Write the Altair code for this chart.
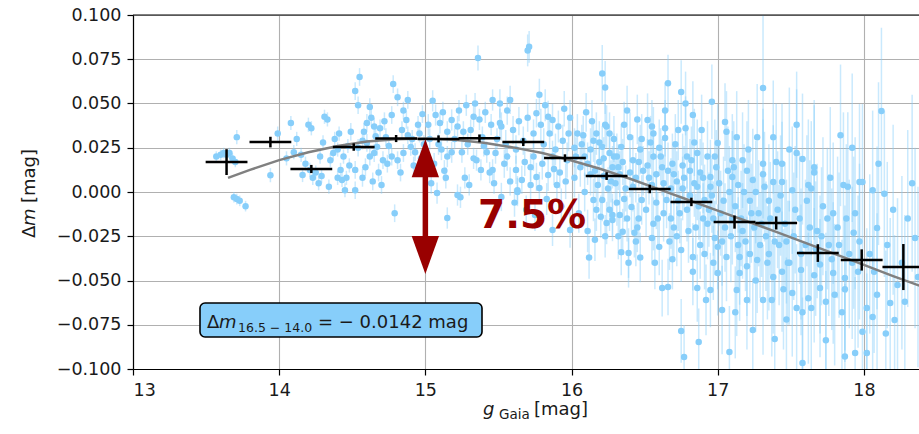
import altair as alt
import pandas as pd

# ---------------- data ----------------
# individual stars: (g_Gaia, delta_m, error)
pts_135_140 = [(13.57,0.020,0.003),(13.60,0.021,0.003),(13.62,0.022,0.003),(13.64,0.021,0.003),(13.66,0.022,0.003),
               (13.68,0.019,0.003),(13.70,0.017,0.003),(13.71,0.031,0.004),(13.69,-0.003,0.003),(13.71,-0.004,0.003),
               (13.73,-0.005,0.003),(13.77,-0.008,0.003),(13.94,0.0095,0.004),(13.99,0.033,0.004)]
pts_140_145 = [(14.08,0.039,0.004),(14.10,0.0225,0.004),(14.15,0.021,0.004),(14.16,0.0096,0.004),(14.20,0.038,0.004),
               (14.22,0.036,0.004),(14.23,0.008,0.004),(14.21,0.0125,0.004),(14.25,0.011,0.004),(14.31,0.0425,0.004),
               (14.33,0.041,0.004),(14.28,0.020,0.004),(14.30,0.028,0.004),(14.37,0.022,0.004),(14.40,0.008,0.004),
               (14.42,0.0125,0.004),(14.43,0.0068,0.004),(14.46,0.008,0.004),(14.48,0.015,0.004),(14.45,0.001,0.004),
               (14.35,0.018,0.004),(14.38,0.030,0.004),(14.47,0.026,0.004),(14.49,0.034,0.005),(14.40,0.024,0.004),
               (14.27,0.005,0.004),(14.12,0.030,0.004),(14.05,0.019,0.004),(14.34,0.003,0.004),(14.44,0.020,0.004),
               (14.29,0.009,0.004),(14.41,0.033,0.004),(14.18,0.016,0.004)]
pts_145_150 = [(14.55,0.065,0.005),(14.52,0.057,0.005),(14.54,0.049,0.005),(14.62,0.048,0.005),(14.78,0.061,0.005),
               (14.81,0.0535,0.005),(14.88,0.052,0.005),(14.83,0.011,0.005),(14.74,0.016,0.005),(14.77,0.0435,0.005),
               (14.85,0.046,0.005),(14.87,0.0407,0.005),(14.95,0.038,0.005),(14.96,0.033,0.005),(14.63,0.042,0.005),
               (14.65,0.037,0.005),(14.69,0.036,0.005),(14.65,0.022,0.005),(14.62,0.020,0.005),(14.67,0.0255,0.005),
               (14.71,0.018,0.005),(14.59,0.014,0.005),(14.60,0.0277,0.005),(14.58,0.034,0.005),(14.68,0.011,0.005),
               (14.77,0.020,0.005),(14.81,0.018,0.005),(14.85,0.022,0.005),(14.90,0.0255,0.005),(14.93,0.0225,0.005),
               (14.52,0.0125,0.005),(14.54,0.025,0.005),(14.57,0.029,0.005),(14.57,0.008,0.005),(14.70,0.004,0.005),
               (14.79,-0.012,0.005),(14.52,0.001,0.005),(14.98,0.044,0.005),(14.91,0.030,0.005),(14.73,0.031,0.005),
               (14.66,0.0315,0.005),(14.72,0.040,0.005),(14.84,0.035,0.005),(14.92,0.015,0.005),(14.97,0.019,0.005),
               (14.60,0.039,0.005),(14.75,0.026,0.005),(14.88,0.032,0.005),(14.64,0.006,0.005),(14.99,0.027,0.005)]
pts_150_155 = [(15.05,0.0515,0.006),(15.12,0.045,0.006),(15.07,0.0435,0.006),(15.18,0.0407,0.006),(15.22,0.037,0.006),
               (15.10,0.039,0.006),(15.15,0.034,0.006),(15.26,0.034,0.006),(15.33,0.0425,0.006),(15.34,0.050,0.006),
               (15.41,0.045,0.006),(15.46,0.052,0.006),(15.36,0.0757,0.007),(15.11,0.024,0.006),(15.18,0.0225,0.006),
               (15.25,0.0225,0.006),(15.15,0.020,0.006),(15.33,0.019,0.006),(15.42,0.0225,0.006),(15.48,0.022,0.006),
               (15.46,0.0125,0.006),(15.35,0.018,0.006),(15.38,0.0125,0.006),(15.44,0.011,0.006),(15.08,-0.0006,0.006),
               (15.22,-0.0017,0.006),(15.15,-0.0147,0.006),(15.24,-0.003,0.006),(15.27,0.008,0.006),(15.14,0.008,0.006),
               (15.03,0.030,0.006),(15.06,0.016,0.006),(15.20,0.030,0.006),(15.29,0.027,0.006),(15.31,0.035,0.006),
               (15.39,0.031,0.006),(15.45,0.038,0.006),(15.02,0.038,0.006),(15.13,0.012,0.006),(15.30,0.004,0.006),
               (15.40,0.026,0.006),(15.49,0.030,0.006),(15.23,0.046,0.006),(15.09,0.027,0.006),(15.37,0.041,0.006),
               (15.04,0.005,0.006),(15.47,0.005,0.006),(15.28,0.049,0.006)]
pts_155_160 = [(15.51,0.050,0.008),(15.56,0.046,0.008),(15.58,0.052,0.008),(15.51,0.039,0.008),(15.52,0.037,0.008),
               (15.56,0.020,0.008),(15.62,0.024,0.008),(15.67,0.029,0.008),(15.70,0.042,0.008),(15.76,0.0445,0.008),
               (15.78,0.055,0.009),(15.70,0.080,0.009),(15.71,0.082,0.009),(15.84,0.0425,0.009),(15.87,0.0407,0.009),
               (15.91,0.037,0.009),(15.85,0.033,0.009),(15.94,0.029,0.009),(15.99,0.042,0.010),(15.74,0.020,0.008),
               (15.72,0.014,0.008),(15.80,0.016,0.009),(15.87,0.020,0.009),(15.97,0.018,0.010),(15.76,0.0085,0.008),
               (15.84,0.0096,0.009),(15.62,0.0125,0.008),(15.54,0.016,0.008),(15.66,0.0068,0.008),(15.72,0.004,0.008),
               (15.78,0.0023,0.009),(15.63,0.000,0.008),(15.90,0.004,0.009),(15.52,-0.0028,0.008),(15.63,0.001,0.008),
               (15.87,-0.0215,0.009),(15.99,-0.0215,0.010),(15.92,0.011,0.009),(15.60,0.035,0.008),(15.64,0.040,0.008),
               (15.68,0.017,0.008),(15.81,0.027,0.009),(15.89,0.024,0.009),(15.96,0.006,0.010),(15.55,0.027,0.008),
               (15.58,0.006,0.008),(15.74,0.033,0.008),(15.79,0.038,0.009),(15.83,-0.004,0.009),(15.93,-0.008,0.010),
               (15.98,0.033,0.010),(15.61,-0.006,0.008),(15.69,-0.010,0.008),(15.75,-0.013,0.009),(15.95,0.047,0.010),
               (15.82,0.049,0.009),(15.88,0.013,0.009)]
pts_160_165 = [(16.04,0.033,0.011),(16.06,0.014,0.011),(16.09,0.020,0.011),(16.15,0.029,0.012),(16.17,0.033,0.012),
               (16.24,0.037,0.012),(16.21,0.0255,0.012),(16.26,0.022,0.012),(16.28,0.014,0.012),(16.21,0.067,0.016),
               (16.23,0.059,0.015),(16.38,0.046,0.014),(16.23,0.038,0.012),(16.26,0.033,0.012),(16.34,0.0255,0.013),
               (16.31,0.020,0.013),(16.47,0.024,0.014),(16.42,0.018,0.014),(16.02,0.008,0.011),(16.09,0.000,0.011),
               (16.15,-0.0045,0.012),(16.20,-0.014,0.012),(16.26,-0.010,0.012),(16.28,-0.0158,0.012),(16.12,-0.037,0.012),
               (16.21,-0.0045,0.012),(16.31,-0.006,0.013),(16.41,-0.0085,0.014),(16.48,-0.0045,0.014),(16.24,-0.0175,0.012),
               (16.28,-0.013,0.012),(16.35,-0.0225,0.013),(16.43,-0.023,0.014),(16.34,-0.034,0.013),(16.39,-0.0345,0.014),
               (16.39,-0.040,0.014),(16.05,-0.012,0.011),(16.10,0.045,0.011),(16.13,0.010,0.012),(16.18,0.004,0.012),
               (16.30,0.005,0.013),(16.33,0.010,0.013),(16.37,0.002,0.013),(16.40,0.031,0.014),(16.44,0.008,0.014),
               (16.46,-0.015,0.014),(16.49,0.012,0.014),(16.07,0.027,0.011),(16.19,0.017,0.012),(16.36,0.038,0.013),
               (16.45,0.041,0.014),(16.11,-0.022,0.012),(16.16,-0.027,0.012),(16.32,-0.025,0.013),(16.25,0.002,0.012),
               (16.03,0.020,0.011),(16.14,0.040,0.012),(16.29,0.030,0.013),(16.38,-0.015,0.013),(16.44,-0.028,0.014),
               (16.22,0.009,0.012),(16.47,-0.037,0.014),
               (16.02,0.025,0.011),(16.08,0.032,0.011),(16.11,0.016,0.012),(16.13,0.024,0.012),(16.16,0.012,0.012),
               (16.19,0.028,0.012),(16.22,0.019,0.012),(16.27,0.006,0.012),(16.29,0.020,0.013),(16.32,0.014,0.013),
               (16.35,0.017,0.013),(16.36,-0.004,0.013),(16.40,0.011,0.014),(16.42,0.003,0.014),(16.46,0.017,0.014),
               (16.48,0.030,0.014),(16.17,-0.010,0.012),(16.23,-0.025,0.012),(16.33,-0.013,0.013),(16.45,-0.020,0.014)]
pts_165_170 = [(16.52,0.0407,0.015),(16.55,0.037,0.015),(16.56,0.033,0.015),(16.64,0.046,0.016),(16.66,0.0615,0.016),
               (16.75,0.0565,0.018),(16.78,0.050,0.018),(16.83,0.0435,0.019),(16.96,0.051,0.021),(16.64,0.036,0.016),
               (16.64,0.0305,0.016),(16.73,0.035,0.017),(16.78,0.036,0.018),(16.86,0.022,0.019),(16.56,0.020,0.015),
               (16.62,0.014,0.016),(16.69,0.016,0.017),(16.76,0.015,0.018),(16.88,0.011,0.019),(16.95,0.0085,0.021),
               (16.58,-0.006,0.015),(16.65,-0.0045,0.016),(16.74,-0.012,0.017),(16.86,0.003,0.019),(16.91,-0.0045,0.020),
               (16.95,0.003,0.021),(16.55,-0.026,0.015),(16.60,-0.031,0.016),(16.56,-0.018,0.015),(16.62,-0.0543,0.016),
               (16.66,-0.0537,0.016),(16.75,-0.0785,0.018),(16.77,-0.0932,0.018),(16.87,-0.0848,0.019),(16.86,-0.0543,0.019),
               (16.83,-0.045,0.019),(16.92,-0.061,0.020),(16.95,-0.0554,0.021),(16.83,-0.0367,0.019),(16.75,-0.0328,0.018),
               (16.70,-0.020,0.017),(16.80,-0.022,0.018),(16.68,0.002,0.017),(16.72,0.006,0.017),(16.81,-0.002,0.018),
               (16.90,-0.015,0.020),(16.98,-0.026,0.021),(16.53,0.008,0.015),(16.60,0.025,0.016),(16.71,0.027,0.017),
               (16.84,0.028,0.019),(16.93,0.020,0.020),(16.99,0.014,0.021),(16.57,-0.040,0.015),(16.67,-0.028,0.016),
               (16.79,-0.010,0.018),(16.88,-0.030,0.019),(16.97,-0.040,0.021),(16.63,-0.012,0.016),(16.77,0.008,0.018),
               (16.89,0.035,0.020),(16.54,0.028,0.015),(16.69,-0.038,0.017),(16.82,0.018,0.019),(16.94,-0.010,0.021),
               (16.51,-0.010,0.015),
               (16.52,0.015,0.015),(16.55,0.004,0.015),(16.58,0.010,0.015),(16.61,0.020,0.016),(16.63,0.005,0.016),
               (16.66,0.012,0.016),(16.70,0.010,0.017),(16.73,-0.005,0.017),(16.76,0.002,0.018),(16.79,0.020,0.018),
               (16.81,0.012,0.018),(16.84,0.005,0.019),(16.87,-0.008,0.019),(16.90,0.008,0.020),(16.93,-0.018,0.020),
               (16.96,-0.002,0.021),(16.98,0.020,0.021),(16.59,-0.015,0.015),(16.68,-0.015,0.017),(16.72,-0.025,0.017),
               (16.85,-0.020,0.019),(16.91,-0.035,0.020),(16.97,-0.015,0.021)]
pts_170_175 = [(17.05,0.0395,0.022),(17.06,0.034,0.023),(17.00,0.0277,0.022),(17.13,0.031,0.026),(17.27,0.031,0.030),
               (17.31,0.0588,0.042),(17.38,0.031,0.032),(17.21,0.024,0.028),(17.10,0.018,0.026),(17.11,0.014,0.026),
               (17.17,0.018,0.027),(17.31,0.016,0.031),(17.40,0.017,0.033),(17.44,0.016,0.034),(17.10,0.0085,0.026),
               (17.24,0.0068,0.029),(17.31,0.010,0.031),(17.38,0.0057,0.032),(17.44,0.0057,0.034),(17.00,-0.0458,0.024),
               (17.03,-0.0667,0.025),(17.08,-0.0904,0.026),(17.13,-0.0554,0.026),(17.15,-0.0458,0.027),(17.20,-0.061,0.028),
               (17.24,-0.078,0.029),(17.31,-0.061,0.031),(17.37,-0.061,0.032),(17.39,-0.083,0.033),(17.38,-0.048,0.032),
               (17.47,-0.072,0.035),(17.27,-0.0384,0.030),(17.20,-0.042,0.028),(17.15,-0.0367,0.027),(17.06,-0.0367,0.025),
               (17.00,-0.031,0.024),(17.02,-0.012,0.024),(17.05,-0.020,0.025),(17.09,-0.025,0.026),(17.12,-0.008,0.026),
               (17.16,-0.015,0.027),(17.19,-0.028,0.028),(17.22,-0.005,0.028),(17.25,-0.020,0.029),(17.28,-0.012,0.030),
               (17.33,-0.025,0.031),(17.35,-0.005,0.032),(17.42,-0.030,0.034),(17.46,-0.018,0.035),(17.48,-0.040,0.035),
               (17.18,0.000,0.027),(17.29,-0.030,0.030),(17.41,-0.010,0.033),(17.08,0.000,0.026),(17.34,-0.040,0.032),
               (17.45,-0.055,0.034),(17.12,-0.068,0.026),(17.26,-0.050,0.029),(17.49,0.024,0.035),
               (17.01,0.005,0.024),(17.04,-0.005,0.025),(17.07,0.012,0.025),(17.10,-0.015,0.026),(17.14,0.004,0.027),
               (17.17,-0.022,0.027),(17.20,0.012,0.028),(17.23,-0.012,0.028),(17.26,0.000,0.029),(17.30,-0.018,0.030),
               (17.32,0.003,0.031),(17.36,-0.015,0.032),(17.39,-0.028,0.033),(17.43,-0.002,0.034),(17.47,-0.028,0.035),
               (17.03,-0.028,0.025),(17.14,-0.030,0.027),(17.22,-0.035,0.028),(17.35,-0.035,0.032),(17.44,-0.045,0.034)]
pts_175_180 = [(17.54,0.038,0.030),(17.54,0.022,0.036),(17.58,0.0186,0.037),(17.66,0.014,0.038),(17.66,0.011,0.038),
               (17.84,0.032,0.040),(17.92,0.025,0.042),(17.97,0.0057,0.044),(17.99,0.0057,0.044),(17.51,0.001,0.036),
               (17.62,0.004,0.037),(17.64,0.002,0.038),(17.79,-0.012,0.040),(17.86,0.004,0.041),(17.89,0.003,0.042),
               (17.94,-0.012,0.043),(17.54,-0.0655,0.036),(17.58,-0.068,0.037),(17.64,-0.0655,0.038),(17.51,-0.057,0.036),
               (17.58,-0.0966,0.037),(17.62,-0.060,0.037),(17.74,-0.0837,0.039),(17.70,-0.0543,0.039),(17.74,-0.062,0.039),
               (17.80,-0.058,0.040),(17.87,-0.093,0.041),(17.94,-0.091,0.043),(17.99,-0.079,0.044),(17.93,-0.023,0.043),
               (17.87,-0.0486,0.041),(17.87,-0.055,0.041),(17.79,-0.0458,0.040),(17.66,-0.047,0.038),(17.70,-0.041,0.039),
               (17.57,-0.044,0.037),(17.49,-0.040,0.035),(17.52,-0.025,0.036),(17.56,-0.015,0.037),(17.60,-0.030,0.037),
               (17.68,-0.022,0.038),(17.72,-0.008,0.039),(17.76,-0.030,0.040),(17.82,-0.020,0.040),(17.90,-0.035,0.042),
               (17.96,-0.045,0.043),(17.77,0.008,0.040),(17.61,-0.005,0.037),(17.85,-0.068,0.041),
               (17.53,-0.010,0.036),(17.57,-0.035,0.037),(17.63,-0.020,0.038),(17.67,-0.032,0.038),(17.71,-0.025,0.039),
               (17.75,-0.015,0.040),(17.78,-0.038,0.040),(17.83,-0.030,0.041),(17.88,-0.015,0.042),(17.92,-0.040,0.043),
               (17.97,-0.028,0.044)]
pts_180_185 = [(18.10,0.016,0.046),(18.12,0.0458,0.047),(18.06,0.001,0.045),(18.14,-0.001,0.047),(18.33,0.005,0.050),
               (18.02,-0.0655,0.045),(18.02,-0.091,0.045),(18.06,-0.0706,0.045),(18.09,-0.058,0.046),(18.18,-0.0627,0.048),
               (18.21,-0.0723,0.048),(18.23,-0.0525,0.049),(18.35,-0.026,0.051),(18.09,-0.0203,0.046),(18.04,-0.035,0.045),
               (18.16,-0.030,0.047),(18.26,-0.040,0.049),(18.30,-0.015,0.050),(18.20,-0.010,0.048),(18.07,-0.045,0.046),
               (18.28,-0.062,0.049),(18.37,-0.048,0.051),(18.15,-0.080,0.047)]

# binned means
bin_g = [13.64, 13.94, 14.22, 14.51, 14.80, 15.09, 15.37, 15.67, 15.955, 16.24, 16.535, 16.82, 17.115, 17.40, 17.685, 17.985, 18.27]
bin_dm = [0.0169, 0.0282, 0.0130, 0.0254, 0.0302, 0.0300, 0.0303, 0.0282, 0.0192, 0.0090, 0.0017, -0.0056, -0.0170, -0.0175, -0.0345, -0.0384, -0.0424]
bin_halfwidth = [0.143] * 17
bin_err = [0.0073, 0.0030, 0.0023, 0.0021, 0.0020, 0.0020, 0.0022, 0.0022, 0.0021, 0.0022, 0.0024, 0.0024, 0.0037, 0.0037, 0.0050, 0.0060, 0.0130]

# fitted trend curve
curve_g = [13.65, 13.8, 14.0, 14.2, 14.4, 14.6, 14.8, 15.0, 15.2, 15.4, 15.6, 15.8, 16.0, 16.2, 16.4, 16.6, 16.8,
           17.0, 17.2, 17.4, 17.6, 17.8, 18.0, 18.2, 18.4]
curve_dm = [0.0080, 0.0125, 0.0180, 0.0225, 0.0260, 0.0285, 0.0298, 0.0302, 0.0295, 0.0278, 0.0252, 0.0220, 0.0178,
            0.0130, 0.0075, 0.0015, -0.0045, -0.0105, -0.0165, -0.0225, -0.0287, -0.0350, -0.0412, -0.0475, -0.0535]

# arrow annotation (data units)
arrow_g = 15.0
arrow_top = 0.0298
arrow_bottom = -0.0463

x_ticks = [13, 14, 15, 16, 17, 18]
y_ticks = [-0.1, -0.075, -0.05, -0.025, 0.0, 0.025, 0.05, 0.075, 0.1]
x_domain = [13, 18.377]
y_domain = [-0.1, 0.1]

# ---------------- chart ----------------
FONT = "DejaVu Sans"
BLUE = "#87cefa"
RED = "#990000"
TXT = "#1a1a1a"

all_pts = (pts_135_140 + pts_140_145 + pts_145_150 + pts_150_155 + pts_155_160 +
           pts_160_165 + pts_165_170 + pts_170_175 + pts_175_180 + pts_180_185)
stars = pd.DataFrame(all_pts, columns=["g", "dm", "err"])
stars["lo"] = stars["dm"] - stars["err"]
stars["hi"] = stars["dm"] + stars["err"]

bins = pd.DataFrame({"g": bin_g, "dm": bin_dm, "hw": bin_halfwidth, "e": bin_err})
bins["g0"] = bins["g"] - bins["hw"]
bins["g1"] = bins["g"] + bins["hw"]
bins["lo"] = bins["dm"] - bins["e"]
bins["hi"] = bins["dm"] + bins["e"]

curve = pd.DataFrame({"g": curve_g, "dm": curve_dm})

xs = alt.Scale(domain=x_domain, nice=False, zero=False)
ys = alt.Scale(domain=y_domain, nice=False, zero=False)
xax = alt.Axis(values=x_ticks, format="d", title=None, tickSize=6, labelPadding=6)
yax = alt.Axis(values=y_ticks, format=".3f", title=None, tickSize=6, labelPadding=6)


def X(f):
    return alt.X(f, type="quantitative", scale=xs, axis=xax)


def Y(f):
    return alt.Y(f, type="quantitative", scale=ys, axis=yax)


err_layer = alt.Chart(stars).mark_rule(color=BLUE, opacity=0.45, strokeWidth=1.5, clip=True).encode(
    x=X("g"), y=Y("lo"), y2="hi")
pt_layer = alt.Chart(stars).mark_circle(color=BLUE, opacity=1, size=42, clip=True).encode(
    x=X("g"), y=Y("dm"))
curve_layer = alt.Chart(curve).mark_line(color="#808080", strokeWidth=2.5, clip=True).encode(
    x=X("g"), y=Y("dm"))
bin_h = alt.Chart(bins).mark_rule(color="black", strokeWidth=2.5, clip=True).encode(
    x=X("g0"), x2="g1", y=Y("dm"))
bin_v = alt.Chart(bins).mark_rule(color="black", strokeWidth=2.5, clip=True).encode(
    x=X("g"), y=Y("lo"), y2="hi")

# top frame line (the right side is cut off in the reference)
top_df = pd.DataFrame({"y": [y_domain[1]]})
top_line = alt.Chart(top_df).mark_rule(color="black", strokeWidth=1.2).encode(
    y=Y("y"), x=alt.value(0), x2=alt.value(786))

arrow_df = pd.DataFrame({"g": [arrow_g], "top": [arrow_top], "bot": [arrow_bottom],
                         "s0": [arrow_top - 0.01], "s1": [arrow_bottom + 0.01]})
shaft = alt.Chart(arrow_df).mark_rule(color=RED, strokeWidth=5.5).encode(
    x=X("g"), y=Y("s0"), y2="s1")
head_up = alt.Chart(arrow_df).mark_point(
    shape="M0,0L0.72,2L-0.72,2Z", filled=True, color=RED, opacity=1, size=1444, strokeWidth=0).encode(
    x=X("g"), y=Y("top"))
head_down = alt.Chart(arrow_df).mark_point(
    shape="M0,0L0.72,-2L-0.72,-2Z", filled=True, color=RED, opacity=1, size=1444, strokeWidth=0).encode(
    x=X("g"), y=Y("bot"))


def piece(txt, x, y, size, color=TXT, style="normal", weight="normal", angle=0, align="left"):
    kw = dict(font=FONT, fontSize=size, color=color, fontStyle=style, fontWeight=weight,
              align=align, baseline="alphabetic")
    if angle:
        kw["angle"] = angle
    return alt.Chart(pd.DataFrame({"t": [txt]})).mark_text(**kw).encode(
        x=alt.value(x), y=alt.value(y), text="t:N")


pct = piece("7.5%", 345, 213, 39, color=RED, weight="bold")

box = alt.Chart(pd.DataFrame({"k": [0]})).mark_rect(
    fill=BLUE, stroke="black", strokeWidth=1.6, cornerRadius=5).encode(
    x=alt.value(67), x2=alt.value(349), y=alt.value(288), y2=alt.value(322))
box_texts = [
    piece("Δ", 74, 313, 18),
    piece("m", 86, 313, 18, style="italic"),
    piece("16.5 − 14.0", 105, 317, 12.5),
    piece("= − 0.0142 mag", 185, 313, 18),
]

xtitle = [
    piece("g", 350, 400, 18, style="italic"),
    piece("Gaia", 366, 404, 13.5),
    piece("[mag]", 401, 400, 18),
]
ytitle = [
    piece("Δ", -98, 223, 18, angle=270),
    piece("m", -98, 211, 18, style="italic", angle=270),
    piece("[mag]", -98, 188, 18, angle=270),
]

chart = alt.layer(
    err_layer, pt_layer, curve_layer, bin_h, bin_v, top_line, shaft, head_up, head_down, pct,
    box, *box_texts, *xtitle, *ytitle
).properties(
    width=786, height=354,
    autosize=alt.AutoSizeParams(type="none"),
    padding={"left": 133, "top": 15, "right": 0, "bottom": 65},
).configure_view(
    strokeWidth=0
).configure_axis(
    grid=True, gridColor="#b0b0b0", gridWidth=1.1,
    domainColor="black", domainWidth=1.2, tickColor="black", tickWidth=1.2,
    labelFont=FONT, labelFontSize=17.5, labelColor=TXT,
)

chart.save("out.html", embed_options={"renderer": "svg", "actions": False})
